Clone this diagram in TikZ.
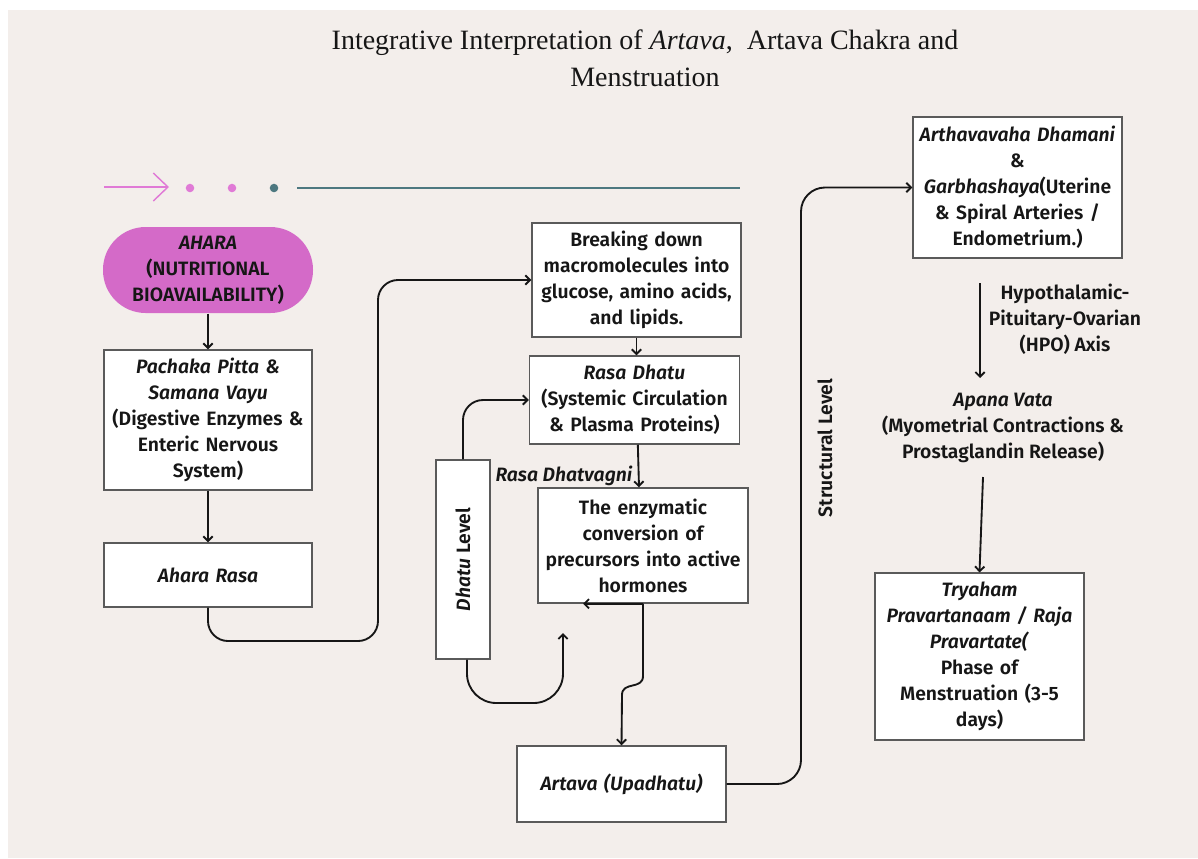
\documentclass[tikz,border=0pt]{standalone}
\usepackage{fontspec}
\usepackage{graphicx}
\setmainfont{Fira Sans}[UprightFont=* SemiBold, ItalicFont=* SemiBold Italic, BoldFont=* Bold, BoldItalicFont=* Bold Italic]
\newfontfamily\titlefont{Liberation Serif}
\usetikzlibrary{arrows.meta}
\definecolor{bg}{HTML}{F3EEEB}
\definecolor{aharapink}{HTML}{D46AC8}
\definecolor{decopink}{HTML}{E07AD6}
\definecolor{decoteal}{HTML}{4D7880}
\definecolor{ink}{HTML}{161616}
\definecolor{boxline}{HTML}{5A5A5A}
\begin{document}
\begin{tikzpicture}[x=0.75pt,y=-0.75pt,
  every node/.style={font=\fontsize{14.5}{19.5}\selectfont, text=ink},
  boxbase/.style={draw=boxline, line width=1.1pt, fill=white, inner sep=0pt, align=center},
  box/.style={boxbase, text width=152pt},
  conn/.style={draw=ink, line width=1.4pt},
  arr/.style={conn, -{Straight Barb[length=3.5pt,width=7pt]}},
]
\fill[white] (0,0) rectangle (1198,858);
\fill[bg] (8,10) rectangle (1198,858);
\useasboundingbox (0,0) rectangle (1198,858);

% title
\node[font=\titlefont\fontsize{21}{28}\selectfont, align=center] (title) at (645,58)
  {Integrative Interpretation of \textit{Artava},\ \ Artava Chakra and\\Menstruation};

% decoration
\draw[decopink, line width=1.1pt, -{Straight Barb[length=11pt,width=21pt]}] (104,187) -- (169,187);
\fill[decopink] (190,188) circle (3.2pt);
\fill[decopink] (232,188) circle (3.2pt);
\fill[decoteal] (274,188) circle (3.2pt);
\draw[decoteal, line width=2pt] (297,188) -- (740,188);

% nodes
\node[box, fill=aharapink, draw=none, rounded corners=32pt, minimum width=157.5pt, minimum height=64.5pt] (ahara) at (208,270)
  {\textit{AHARA}\\(NUTRITIONAL\\BIOAVAILABILITY)};
\node[box, minimum width=156pt, minimum height=105pt] (pachaka) at (208,420)
  {\textit{Pachaka Pitta \&}\\\textit{Samana Vayu}\\(Digestive Enzymes \&\\Enteric Nervous\\System)};
\node[box, minimum width=156pt, minimum height=48pt] (aharasa) at (208,575) {\textit{Ahara Rasa}};
\node[box, minimum width=156.75pt, minimum height=85.5pt] (breaking) at (636.5,280)
  {Breaking down\\macromolecules into\\glucose, amino acids,\\and lipids.};
\node[box, minimum width=157.5pt, minimum height=66pt] (rasadhatu) at (634.5,400)
  {\textit{Rasa Dhatu}\\(Systemic Circulation\\\& Plasma Proteins)};
\node[box, minimum width=157.5pt, minimum height=86.25pt] (enzym) at (643,545.5)
  {The enzymatic\\conversion of\\precursors into active\\hormones};
\node[boxbase, minimum width=40.5pt, minimum height=149.25pt] (dhatu) at (463,559.5)
  {\rotatebox{90}{\textit{Dhatu} Level}};
\node[box, minimum width=156.75pt, minimum height=57pt] (artava) at (621.5,784) {\textit{Artava (Upadhatu)}};
\node[box, minimum width=156.75pt, minimum height=105.75pt] (artha) at (1017.5,187.5)
  {\textit{Arthavavaha Dhamani}\\\&\\\textit{Garbhashaya}(Uterine\\\& Spiral Arteries /\\Endometrium.)};
\node[box, minimum width=156.75pt, minimum height=125pt] (tryaham) at (979.5,656.5)
  {\textit{Tryaham}\\\textit{Pravartanaam / Raja}\\\textit{Pravartate(}\\Phase of\\Menstruation (3-5\\days)};
\node[align=center] (apana) at (1003,428)
  {\textit{Apana Vata}\\(Myometrial Contractions \&\\Prostaglandin Release)};
\node[align=center] (hpo) at (1065,319) {Hypothalamic-\\Pituitary-Ovarian\\(HPO) Axis};
\node (dhatvagni) at (564,476) {\textit{Rasa Dhatvagni}};
\node[rotate=90] (structural) at (825,448) {Structural Level};

% coordinates
\coordinate (loopend) at (563,633);
\coordinate (sbend) at (801,187.5);
\coordinate (hpotop) at (980,283);
\coordinate (hpobot) at (980,378);
\coordinate (apanaout) at (983,477);

% connectors
\draw[arr] (ahara) -- (pachaka);
\draw[arr] (pachaka) -- (aharasa);
\draw[arr, rounded corners=15pt] (aharasa.south) |- (378,641) |- (breaking.west);
\draw[arr] (breaking.south) -- (breaking.south |- rasadhatu.north);
\draw[arr] ([xshift=2.5pt]rasadhatu.south) -- ([xshift=-3pt]enzym.north);
\draw[arr, rounded corners=15pt] (dhatu.north) |- (rasadhatu.west);
\draw[arr, rounded corners=22pt] ([xshift=3pt]dhatu.south) |- (563,703) -- (loopend);
\draw[arr] (enzym.south) -- ++(-60,0);
\draw[arr] (enzym.south) -- (643,676) .. controls (643,690) and (622,681) .. (622,695) -- (artava.north);
\draw[arr, rounded corners=18pt] (artava.east) -| (sbend) -- (artha.west);
\draw[arr] (hpotop) -- (hpobot);
\draw[arr] (apanaout) -- (tryaham.north);
\end{tikzpicture}
\end{document}
